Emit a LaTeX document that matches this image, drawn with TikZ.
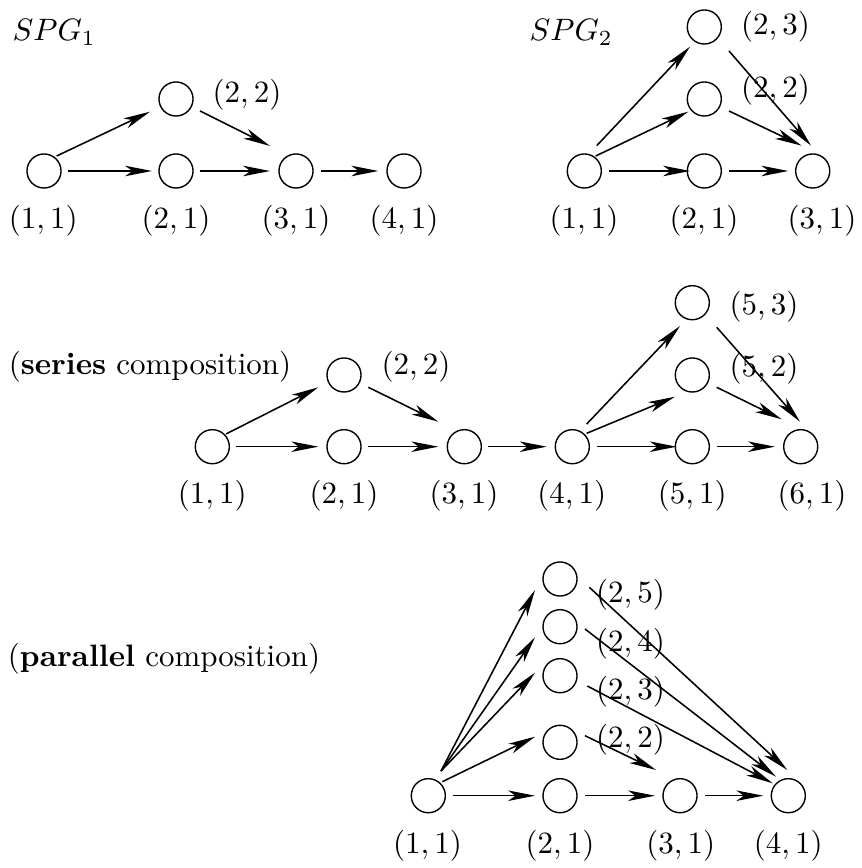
\documentclass[tikz,border=0pt]{standalone}
\usetikzlibrary{arrows.meta,calc}
\begin{document}
\begin{tikzpicture}[x=0.323pt,y=-0.323pt,
  vtx/.style={circle,draw,line width=0.45pt,minimum size=11pt,inner sep=0pt},
  arr/.style={line width=0.5pt,-{Stealth[length=8.7pt,width=3.4pt,inset=2.4pt]}},
  lbl/.style={inner sep=0pt}]
\useasboundingbox (0,0) rectangle (861,868);

% ---------- SPG1 ----------
\node[lbl,anchor=base west] (t1) at (12,40.5) {$SPG_1$};
\node[vtx] (A11) at (44,171) {};
\node[vtx] (A21) at (176,171) {};
\node[vtx] (A22) at (176,99) {};
\node[vtx] (A31) at (296,171) {};
\node[vtx] (A41) at (404,171) {};
\node[lbl] (lA11) at (43.3,221) {$(1,1)$};
\node[lbl] (lA21) at (176,221) {$(2,1)$};
\node[lbl] (lA31) at (296,221) {$(3,1)$};
\node[lbl] (lA41) at (404,221) {$(4,1)$};
\node[lbl] (lA22) at (247,95) {$(2,2)$};
\draw[arr] ($(A11)+(12.7,-15)$) -- ($(A22)+(-26,12.7)$);
\draw[arr] ($(A11)+(24,0)$) -- ($(A21)+(-24,0)$);
\draw[arr] ($(A21)+(24,0)$) -- ($(A31)+(-26,0)$);
\draw[arr] ($(A22)+(24,12)$) -- ($(A31)+(-26,-25)$);
\draw[arr] ($(A31)+(24.7,0)$) -- ($(A41)+(-25.7,0)$);

% ---------- SPG2 ----------
\node[lbl,anchor=base west] (t2) at (529,40.5) {$SPG_2$};
\node[vtx] (B11) at (584.3,171) {};
\node[vtx] (B21) at (704.3,171) {};
\node[vtx] (B31) at (812.7,171) {};
\node[vtx] (B22) at (704.3,99) {};
\node[vtx] (B23) at (704.3,27) {};
\node[lbl] (lB11) at (584,221) {$(1,1)$};
\node[lbl] (lB21) at (704,221) {$(2,1)$};
\node[lbl] (lB31) at (822,221) {$(3,1)$};
\node[lbl] (lB22) at (775.5,90) {$(2,2)$};
\node[lbl] (lB23) at (775.5,27) {$(2,3)$};
\draw[arr] ($(B11)+(12.4,-25.3)$) -- ($(B23)+(-14.3,19.7)$);
\draw[arr] ($(B11)+(11.4,-15)$) -- ($(B22)+(-16,12.7)$);
\draw[arr] ($(B11)+(24.7,0)$) -- ($(B21)+(-14.3,0)$);
\draw[arr] ($(B21)+(24.7,0)$) -- ($(B31)+(-24.4,0)$);
\draw[arr] ($(B22)+(24.7,12)$) -- ($(B31)+(-11,-25.3)$);
\draw[arr] ($(B23)+(24.7,24)$) -- ($(B31)+(-1.7,-25.3)$);

% ---------- series ----------
\node[lbl] (ts) at (150,366.7) {(\textbf{series} composition)};
\node[vtx] (C11) at (212.3,446.7) {};
\node[vtx] (C21) at (344,446.7) {};
\node[vtx] (C22) at (344,375) {};
\node[vtx] (C31) at (464.3,446.7) {};
\node[vtx] (C41) at (572.3,446.7) {};
\node[vtx] (C51) at (692.3,446.7) {};
\node[vtx] (C52) at (692.3,375) {};
\node[vtx] (C53) at (692.3,302.7) {};
\node[vtx] (C61) at (800.7,446.7) {};
\node[lbl] (lC11) at (212.3,496) {$(1,1)$};
\node[lbl] (lC21) at (344,496) {$(2,1)$};
\node[lbl] (lC31) at (464,496) {$(3,1)$};
\node[lbl] (lC41) at (571.7,496) {$(4,1)$};
\node[lbl] (lC51) at (692.3,496) {$(5,1)$};
\node[lbl] (lC61) at (812,496) {$(6,1)$};
\node[lbl] (lC22) at (416,366.7) {$(2,2)$};
\node[lbl] (lC52) at (764,369) {$(5,2)$};
\node[lbl] (lC53) at (764,306.7) {$(5,3)$};
\draw[arr] ($(C11)+(13.7,-12.7)$) -- ($(C22)+(-25.7,12.3)$);
\draw[arr] ($(C11)+(23.7,0)$) -- ($(C21)+(-25.7,0)$);
\draw[arr] ($(C21)+(24.3,0)$) -- ($(C31)+(-26,0)$);
\draw[arr] ($(C22)+(24.3,12.3)$) -- ($(C31)+(-26,-25)$);
\draw[arr] ($(C31)+(24,0)$) -- ($(C41)+(-25.6,0)$);
\draw[arr] ($(C41)+(14.4,-22.7)$) -- ($(C53)+(-12.3,23.3)$);
\draw[arr] ($(C41)+(14.4,-13.4)$) -- ($(C52)+(-17.3,21.7)$);
\draw[arr] ($(C41)+(24.4,0)$) -- ($(C51)+(-15.6,0)$);
\draw[arr] ($(C51)+(24.4,0)$) -- ($(C61)+(-25.7,0)$);
\draw[arr] ($(C52)+(24.4,12.3)$) -- ($(C61)+(-19,-27.4)$);
\draw[arr] ($(C53)+(24.4,24.6)$) -- ($(C61)+(-0.7,-25)$);

% ---------- parallel ----------
\node[lbl] (tp) at (164,659) {(\textbf{parallel} composition)};
\node[vtx] (D11) at (428.3,795.7) {};
\node[vtx] (D21) at (560,795.7) {};
\node[vtx] (D31) at (680,795.7) {};
\node[vtx] (D41) at (788.3,795.7) {};
\node[vtx] (D22) at (560,742.3) {};
\node[vtx] (D23) at (560,675.7) {};
\node[vtx] (D24) at (560,626.7) {};
\node[vtx] (D25) at (560,579) {};
\node[lbl] (lD11) at (427.5,845.7) {$(1,1)$};
\node[lbl] (lD21) at (560,845.7) {$(2,1)$};
\node[lbl] (lD31) at (680.7,845.7) {$(3,1)$};
\node[lbl] (lD41) at (788.3,845.7) {$(4,1)$};
\node[lbl] (lD22) at (630.5,740) {$(2,2)$};
\node[lbl] (lD23) at (630.5,691.7) {$(2,3)$};
\node[lbl] (lD24) at (630.5,643.3) {$(2,4)$};
\node[lbl] (lD25) at (630.5,595) {$(2,5)$};
\draw[arr] ($(D11)+(24.4,0)$) -- ($(D21)+(-25,0)$);
\draw[arr] ($(D21)+(25,0)$) -- ($(D31)+(-25,0)$);
\draw[arr] ($(D31)+(25,0)$) -- ($(D41)+(-25,0)$);
\draw[arr] ($(D11)+(14,-14)$) -- ($(D22)+(-25,-5.6)$);
\draw[arr] ($(D11)+(12.7,-24.7)$) -- ($(D23)+(-25,-3)$);
\draw[arr] ($(D11)+(12.7,-24.7)$) -- ($(D24)+(-25,10.6)$);
\draw[arr] ($(D11)+(12.7,-24.7)$) -- ($(D25)+(-25,11)$);
\draw[arr] ($(D22)+(25,-6.6)$) -- ($(D31)+(-24,-25.7)$);
\draw[arr] ($(D23)+(27.3,10.3)$) -- ($(D41)+(-15.6,-12.4)$);
\draw[arr] ($(D24)+(25,2.3)$) -- ($(D41)+(-12.3,-19)$);
\draw[arr] ($(D25)+(29.3,8.3)$) -- ($(D41)+(-1,-25.7)$);
\end{tikzpicture}
\end{document}
